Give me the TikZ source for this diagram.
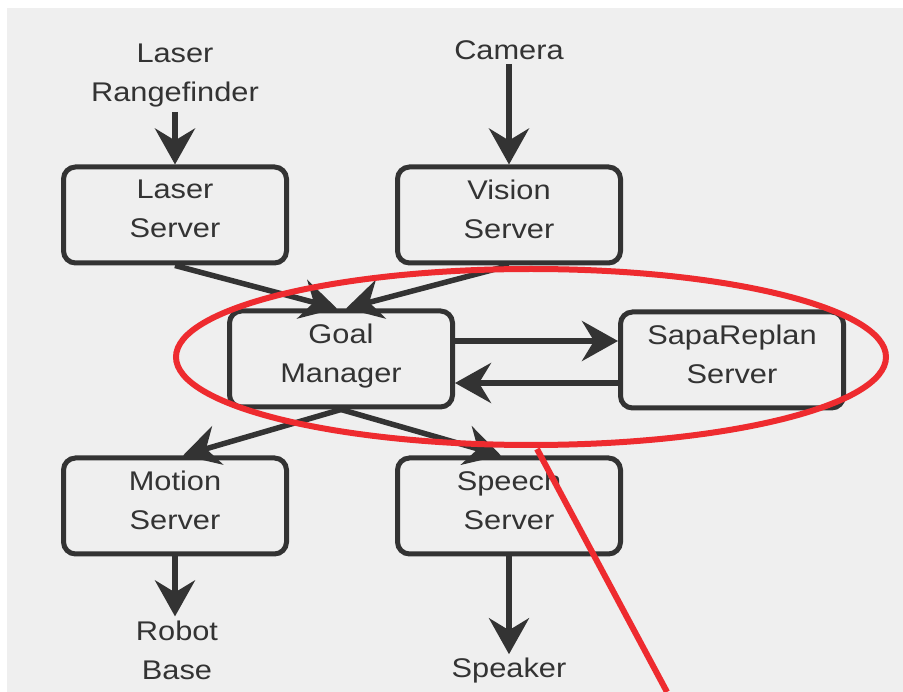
\documentclass[tikz,border=0pt]{standalone}
\usepackage{fontspec}
\setmainfont[FakeStretch=1.14]{Liberation Sans}
\usetikzlibrary{arrows.meta}
\definecolor{ink}{HTML}{333333}
\definecolor{panel}{HTML}{EFEFEF}
\definecolor{marker}{HTML}{EE2B2F}

\begin{document}
\begin{tikzpicture}[x=1pt,y=-1pt,
  txt/.style={font=\fontsize{27}{39}\selectfont, text=ink, align=center},
  label/.style={txt, inner sep=4pt},
  module/.style={txt, draw=ink, line width=5pt, rounded corners=12pt,
    minimum width=223pt, minimum height=96pt, inner sep=0pt, text depth=12pt},
  flow/.style={draw=ink, line width=5.5pt,
    -{Stealth[length=36pt,width=40pt,inset=12pt]}},
  ring/.style={draw=marker, line width=6pt},
]
% page and grey panel
\useasboundingbox (0,0) rectangle (903,692);
\fill[white] (0,0) rectangle (903,692);
\fill[panel] (7,8) rectangle (903,692);

% sources and sinks
\node[label] (rf)  at (175,76)  {Laser\\Rangefinder};
\node[label] (cam) at (509,50)  {Camera};
\node[label] (base) at (177,650) {Robot\\Base};
\node[label] (spk) at (509,671) {Speaker};

% server modules
\node[module] (laser)  at (175,215) {Laser\\Server};
\node[module] (vision) at (509,215) {Vision\\Server};
\node[module] (goal)   at (341,359) {Goal\\Manager};
\node[module] (sapa)   at (732,360) {SapaReplan\\Server};
\node[module] (motion) at (175,506) {Motion\\Server};
\node[module] (speech) at (509,506) {Speech\\Server};

% data flow
\draw[flow] (rf.south) -- (laser.north);
\draw[flow] (cam.south) -- (vision.north);
\draw[flow] (laser.south) -- ([xshift=-4pt]goal.north);
\draw[flow] (vision.south) -- ([xshift=5pt]goal.north);
\draw[flow] ([yshift=18pt]goal.east) -- ([yshift=18pt]goal.east -| sapa.west);
\draw[flow] ([yshift=-23pt]sapa.west) -- ([yshift=-23pt]sapa.west -| goal.east);
\draw[flow] (goal.south) -- ([xshift=8pt]motion.north);
\draw[flow] (goal.south) -- ([xshift=-8pt]speech.north);
\draw[flow] (motion.south) -- (motion.south |- base.north);
\draw[flow] (speech.south) -- (spk.north);

% highlight ring and its pointer
\draw[ring] (531,357) ellipse [x radius=355, y radius=88];
\draw[ring] (537,449) -- (667,692);
\end{tikzpicture}
\end{document}
